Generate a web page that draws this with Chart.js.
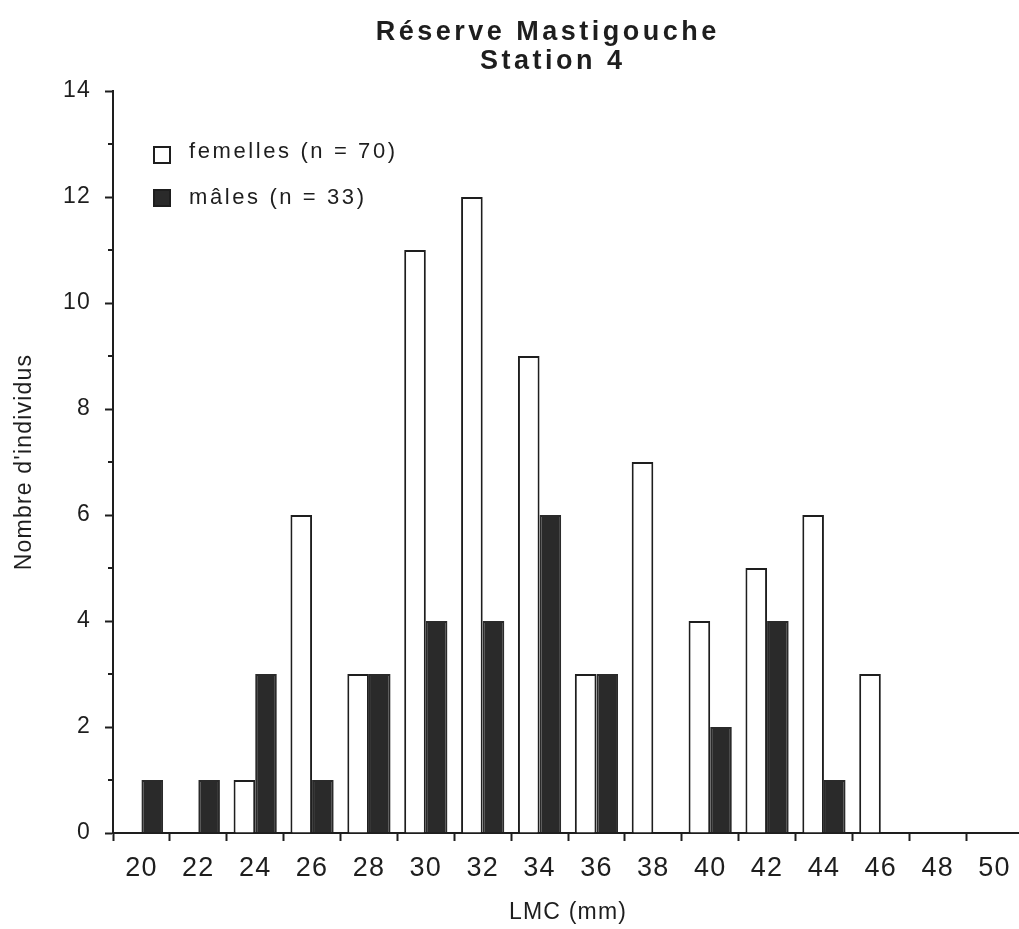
<!DOCTYPE html>
<html>
<head>
<meta charset="utf-8">
<title>Réserve Mastigouche - Station 4</title>
<script src="https://cdn.jsdelivr.net/npm/chart.js@4.4.1/dist/chart.umd.min.js"></script>
<style>
  html, body { margin: 0; padding: 0; background: #fff; overflow: hidden; }
  #wrap { width: 1023px; height: 929px; }
</style>
</head>
<body>
<div id="wrap"><canvas id="chart" width="1023" height="929"></canvas></div>
<script>
// Length classes (LMC, mm)
const categories = ['20', '22', '24', '26', '28', '30', '32', '34', '36', '38', '40', '42', '44', '46', '48', '50'];
// Number of individuals per class
const femelles = [0, 0, 1, 6, 3, 11, 12, 9, 3, 7, 4, 5, 6, 3, 0, 0];
const males    = [1, 1, 3, 1, 3, 4, 4, 6, 3, 0, 2, 4, 1, 0, 0, 0];
const seriesLabels = ['femelles (n = 70)', 'mâles (n = 33)'];
const titleLines = ['Réserve Mastigouche', 'Station 4'];
const xTitle = 'LMC (mm)';
const yTitle = "Nombre d'individus";
const yMin = 0, yMax = 14, yStep = 1, yLabelStep = 2;

const INK = '#1e1e1e';
const DARK = '#2a2a2a';
const FONT = '"Liberation Sans", Arial, Helvetica, sans-serif';

Chart.defaults.font.family = FONT;
Chart.defaults.color = INK;

// Letter-spaced text for the axes, plus title, legend and minor ticks
const decorations = {
  id: 'decorations',
  beforeDraw(chart) {
    chart.ctx.letterSpacing = '1.2px';
  },
  afterDraw(chart) {
    const ctx = chart.ctx;
    const y = chart.scales.y;
    const axisX = chart.chartArea.left;

    // minor ticks on odd values
    ctx.save();
    ctx.strokeStyle = INK;
    ctx.lineWidth = 2;
    for (let v = yMin; v <= yMax; v += yStep) {
      if (v % yLabelStep === 0) continue;
      const py = Math.round(y.getPixelForValue(v));
      ctx.beginPath();
      ctx.moveTo(axisX, py);
      ctx.lineTo(axisX - 5, py);
      ctx.stroke();
    }
    ctx.restore();

    // title
    ctx.save();
    ctx.fillStyle = INK;
    ctx.font = 'bold 27px ' + FONT;
    ctx.letterSpacing = '3.5px';
    ctx.textAlign = 'left';
    ctx.textBaseline = 'alphabetic';
    const centers = [546, 551];
    const baselines = [40, 69];
    titleLines.forEach((t, i) => {
      const w = ctx.measureText(t).width - 3.5;
      ctx.fillText(t, centers[i] - w / 2, baselines[i]);
    });
    ctx.restore();

    // legend inside the plot
    ctx.save();
    ctx.font = '22px ' + FONT;
    ctx.letterSpacing = '2.6px';
    ctx.textBaseline = 'alphabetic';
    ctx.textAlign = 'left';
    const boxes = [{ y: 146, base: 158 }, { y: 189, base: 204 }];
    chart.data.datasets.forEach((ds, i) => {
      const b = boxes[i];
      ctx.fillStyle = ds.backgroundColor;
      ctx.fillRect(154, b.y + 1, 16, 16);
      ctx.strokeStyle = INK;
      ctx.lineWidth = 2;
      ctx.strokeRect(154, b.y + 1, 16, 16);
      ctx.fillStyle = INK;
      ctx.fillText(ds.label, 189, b.base);
    });
    ctx.restore();
  }
};

new Chart(document.getElementById('chart'), {
  type: 'bar',
  data: {
    labels: categories,
    datasets: [
      {
        label: seriesLabels[0],
        data: femelles,
        backgroundColor: '#ffffff',
        borderColor: INK,
        borderWidth: 2,
        categoryPercentage: 0.76,
        barPercentage: 1.0
      },
      {
        label: seriesLabels[1],
        data: males,
        backgroundColor: DARK,
        borderColor: DARK,
        borderWidth: 2,
        categoryPercentage: 0.76,
        barPercentage: 1.0
      }
    ]
  },
  options: {
    responsive: false,
    animation: false,
    devicePixelRatio: 1,
    layout: { padding: { top: 91, left: 0, right: 0, bottom: 0 } },
    plugins: {
      legend: { display: false },
      title: { display: false },
      tooltip: { enabled: false }
    },
    scales: {
      x: {
        type: 'category',
        offset: true,
        grid: {
          display: true,
          drawOnChartArea: false,
          offset: true,
          tickLength: 8,
          tickWidth: 2,
          tickColor: INK
        },
        border: { display: true, color: INK, width: 2 },
        ticks: {
          font: { size: 27 },
          color: INK,
          padding: 11,
          maxRotation: 0,
          autoSkip: false
        },
        title: {
          display: true,
          text: xTitle,
          color: INK,
          font: { size: 23 },
          padding: { top: 0, bottom: 3 }
        },
        afterFit(scale) { scale.height = 96; }
      },
      y: {
        type: 'linear',
        min: yMin,
        max: yMax,
        grid: {
          display: true,
          drawOnChartArea: false,
          tickLength: 8,
          tickWidth: 2,
          tickColor: (c) => (c.tick && c.tick.value % yLabelStep === 0) ? INK : 'rgba(0,0,0,0)'
        },
        border: { display: true, color: INK, width: 2 },
        ticks: {
          stepSize: yStep,
          font: { size: 23 },
          color: INK,
          padding: 14,
          callback: (v) => (v % yLabelStep === 0 ? String(v) : '')
        },
        title: {
          display: true,
          text: yTitle,
          color: INK,
          font: { size: 23 },
          padding: { top: 11, bottom: 0 }
        },
        afterFit(scale) { scale.width = 113; }
      }
    }
  },
  plugins: [decorations]
});
</script>
</body>
</html>
